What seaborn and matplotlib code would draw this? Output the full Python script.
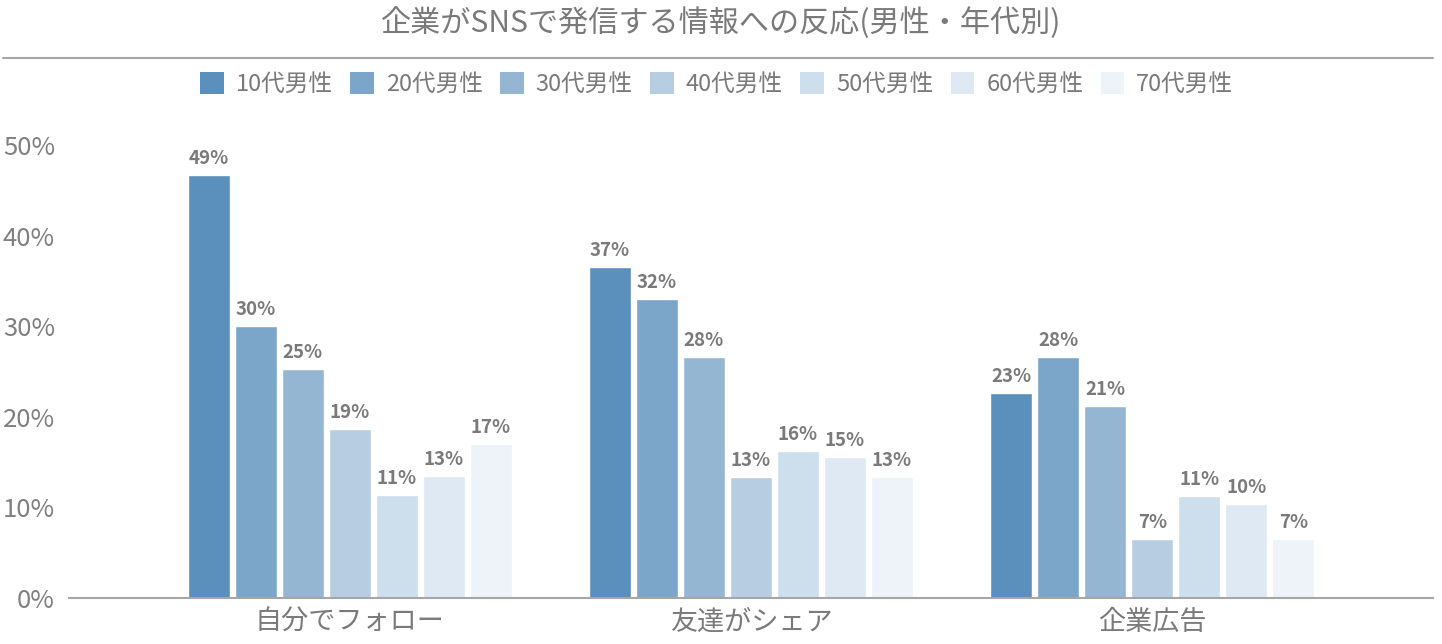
import matplotlib
matplotlib.use("Agg")
import matplotlib.pyplot as plt
import matplotlib.patches as mpatches
from matplotlib.lines import Line2D
from matplotlib.ticker import FuncFormatter
import seaborn as sns
import pandas as pd

# ---- data ----
categories = ["自分でフォロー", "友達がシェア", "企業広告"]
age_groups = ["10代男性", "20代男性", "30代男性", "40代男性", "50代男性", "60代男性", "70代男性"]
v_10s = [46.7, 36.5, 22.6]
v_20s = [30.0, 33.0, 26.6]
v_30s = [25.3, 26.6, 21.2]
v_40s = [18.6, 13.3, 6.5]
v_50s = [11.3, 16.2, 11.2]
v_60s = [13.4, 15.5, 10.4]
v_70s = [17.0, 13.3, 6.5]
lab_10s = ["49%", "37%", "23%"]
lab_20s = ["30%", "32%", "28%"]
lab_30s = ["25%", "28%", "21%"]
lab_40s = ["19%", "13%", "7%"]
lab_50s = ["11%", "16%", "11%"]
lab_60s = ["13%", "15%", "10%"]
lab_70s = ["17%", "13%", "7%"]
y_ticks = [0, 10, 20, 30, 40, 50]
title = "企業がSNSで発信する情報への反応(男性・年代別)"

colors = ["#5B8FBC", "#7BA6C9", "#95B6D3", "#B7CEE2", "#CDDEEC", "#DEE9F3", "#EDF3F8"]

series = [v_10s, v_20s, v_30s, v_40s, v_50s, v_60s, v_70s]
labels = [lab_10s, lab_20s, lab_30s, lab_40s, lab_50s, lab_60s, lab_70s]

rows = []
for ag, vals in zip(age_groups, series):
    for c, v in zip(categories, vals):
        rows.append({"cat": c, "age": ag, "val": v})
df = pd.DataFrame(rows)

sns.set_theme(style="white")
plt.rcParams["font.family"] = ["Noto Sans CJK JP", "DejaVu Sans"]

fig = plt.figure(figsize=(14.42, 6.44), dpi=100)
ax = fig.add_axes([0.0478, 0.0719, 0.9460, 0.7029])

sns.barplot(data=df, x="cat", y="val", hue="age", order=categories,
            hue_order=age_groups, palette=colors, width=0.82, gap=0.1,
            saturation=1, legend=False, ax=ax, errorbar=None)

for cont, labs in zip(ax.containers, labels):
    ax.bar_label(cont, labels=labs, padding=5, fontsize=13.5,
                 fontweight="bold", color="#7a7a7a")

ax.set_ylim(0, 50)
ax.set_xlim(-0.70, 0.70 + 2)
ax.set_yticks(y_ticks)
ax.yaxis.set_major_formatter(FuncFormatter(lambda v, p: f"{v:.0f}%"))
ax.set_xlabel("")
ax.set_ylabel("")
ax.tick_params(axis="y", length=0, pad=10, labelsize=18.5, labelcolor="#808080")
ax.tick_params(axis="x", length=0, pad=8, labelsize=19.5, labelcolor="#7a7a7a")
for s in ["top", "right", "left"]:
    ax.spines[s].set_visible(False)
ax.spines["bottom"].set_color("#a6a6a6")
ax.spines["bottom"].set_linewidth(1.5)
ax.grid(False)

# title and separator
fig.text(0.5, 1 - 23 / 644, title, ha="center", va="center",
         fontsize=21.7, color="#7a7a7a")
fig.add_artist(Line2D([3 / 1442, 1433 / 1442], [1 - 58.3 / 644] * 2,
                      color="#a6a6a6", lw=1.5, transform=fig.transFigure))

# legend
handles = [mpatches.Patch(facecolor=c, edgecolor="none", label=a)
           for c, a in zip(colors, age_groups)]
fig.legend(handles=handles, loc="center", bbox_to_anchor=(0.497, 1 - 84 / 644),
           ncol=7, frameon=False, fontsize=17, labelcolor="#7a7a7a",
           handlelength=1.0, handleheight=1.05, handletextpad=0.5,
           columnspacing=0.75)

fig.savefig("out.png", dpi=100)
